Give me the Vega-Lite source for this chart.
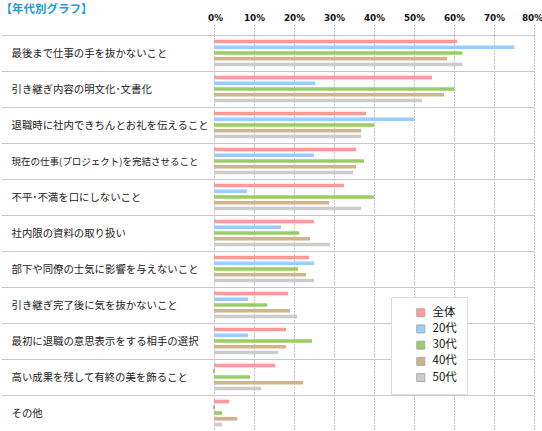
{
  "$schema": "https://vega.github.io/schema/vega-lite/v6.json",
  "width": 320,
  "height": 396,
  "padding": {"left": 0, "top": 3, "right": 9, "bottom": 0},
  "autosize": {"type": "pad"},
  "background": "white",
  "title": {
    "text": "【年代別グラフ】",
    "anchor": "start",
    "frame": "bounds",
    "orient": "top",
    "offset": -2,
    "font": "Noto Sans CJK JP",
    "fontSize": 11.5,
    "fontWeight": "bold",
    "color": "#1E9BD7"
  },
  "config": {
    "view": {"stroke": null},
    "font": "Noto Sans CJK JP"
  },
  "data": {
    "values": [
      {"c": "最後まで仕事の手を抜かないこと", "s": "全体", "v": 60.8},
      {"c": "最後まで仕事の手を抜かないこと", "s": "20代", "v": 75.1},
      {"c": "最後まで仕事の手を抜かないこと", "s": "30代", "v": 62.1},
      {"c": "最後まで仕事の手を抜かないこと", "s": "40代", "v": 58.3},
      {"c": "最後まで仕事の手を抜かないこと", "s": "50代", "v": 62.1},
      {"c": "引き継ぎ内容の明文化･文書化", "s": "全体", "v": 54.5},
      {"c": "引き継ぎ内容の明文化･文書化", "s": "20代", "v": 25.3},
      {"c": "引き継ぎ内容の明文化･文書化", "s": "30代", "v": 60.0},
      {"c": "引き継ぎ内容の明文化･文書化", "s": "40代", "v": 57.5},
      {"c": "引き継ぎ内容の明文化･文書化", "s": "50代", "v": 52.0},
      {"c": "退職時に社内できちんとお礼を伝えること", "s": "全体", "v": 38.0},
      {"c": "退職時に社内できちんとお礼を伝えること", "s": "20代", "v": 50.0},
      {"c": "退職時に社内できちんとお礼を伝えること", "s": "30代", "v": 40.0},
      {"c": "退職時に社内できちんとお礼を伝えること", "s": "40代", "v": 36.8},
      {"c": "退職時に社内できちんとお礼を伝えること", "s": "50代", "v": 36.8},
      {"c": "現在の仕事(プロジェクト)を完結させること", "s": "全体", "v": 35.5},
      {"c": "現在の仕事(プロジェクト)を完結させること", "s": "20代", "v": 25.0},
      {"c": "現在の仕事(プロジェクト)を完結させること", "s": "30代", "v": 37.5},
      {"c": "現在の仕事(プロジェクト)を完結させること", "s": "40代", "v": 35.5},
      {"c": "現在の仕事(プロジェクト)を完結させること", "s": "50代", "v": 34.8},
      {"c": "不平･不満を口にしないこと", "s": "全体", "v": 32.5},
      {"c": "不平･不満を口にしないこと", "s": "20代", "v": 8.3},
      {"c": "不平･不満を口にしないこと", "s": "30代", "v": 40.0},
      {"c": "不平･不満を口にしないこと", "s": "40代", "v": 28.8},
      {"c": "不平･不満を口にしないこと", "s": "50代", "v": 36.8},
      {"c": "社内限の資料の取り扱い", "s": "全体", "v": 25.0},
      {"c": "社内限の資料の取り扱い", "s": "20代", "v": 16.8},
      {"c": "社内限の資料の取り扱い", "s": "30代", "v": 21.3},
      {"c": "社内限の資料の取り扱い", "s": "40代", "v": 24.0},
      {"c": "社内限の資料の取り扱い", "s": "50代", "v": 29.0},
      {"c": "部下や同僚の士気に影響を与えないこと", "s": "全体", "v": 23.8},
      {"c": "部下や同僚の士気に影響を与えないこと", "s": "20代", "v": 25.0},
      {"c": "部下や同僚の士気に影響を与えないこと", "s": "30代", "v": 21.0},
      {"c": "部下や同僚の士気に影響を与えないこと", "s": "40代", "v": 23.0},
      {"c": "部下や同僚の士気に影響を与えないこと", "s": "50代", "v": 25.0},
      {"c": "引き継ぎ完了後に気を抜かないこと", "s": "全体", "v": 18.5},
      {"c": "引き継ぎ完了後に気を抜かないこと", "s": "20代", "v": 8.5},
      {"c": "引き継ぎ完了後に気を抜かないこと", "s": "30代", "v": 13.3},
      {"c": "引き継ぎ完了後に気を抜かないこと", "s": "40代", "v": 19.0},
      {"c": "引き継ぎ完了後に気を抜かないこと", "s": "50代", "v": 20.8},
      {"c": "最初に退職の意思表示をする相手の選択", "s": "全体", "v": 18.0},
      {"c": "最初に退職の意思表示をする相手の選択", "s": "20代", "v": 8.5},
      {"c": "最初に退職の意思表示をする相手の選択", "s": "30代", "v": 24.5},
      {"c": "最初に退職の意思表示をする相手の選択", "s": "40代", "v": 18.0},
      {"c": "最初に退職の意思表示をする相手の選択", "s": "50代", "v": 16.0},
      {"c": "高い成果を残して有終の美を飾ること", "s": "全体", "v": 15.3},
      {"c": "高い成果を残して有終の美を飾ること", "s": "20代", "v": 0},
      {"c": "高い成果を残して有終の美を飾ること", "s": "30代", "v": 9.0},
      {"c": "高い成果を残して有終の美を飾ること", "s": "40代", "v": 22.3},
      {"c": "高い成果を残して有終の美を飾ること", "s": "50代", "v": 11.8},
      {"c": "その他", "s": "全体", "v": 3.8},
      {"c": "その他", "s": "20代", "v": 0},
      {"c": "その他", "s": "30代", "v": 2.0},
      {"c": "その他", "s": "40代", "v": 5.8},
      {"c": "その他", "s": "50代", "v": 2.0}
    ]
  },
  "mark": {"type": "bar", "stroke": "#999999", "strokeWidth": 1},
  "encoding": {
    "y": {
      "field": "c",
      "type": "nominal",
      "sort": null,
      "scale": {"paddingInner": 0, "paddingOuter": 0},
      "axis": {
        "title": null,
        "domain": false,
        "ticks": true,
        "tickBand": "extent",
        "tickSize": 213,
        "tickColor": "#c8c8c8",
        "tickWidth": 1,
        "grid": true,
        "gridColor": "#c8c8c8",
        "gridWidth": 1,
        "labelAlign": "left",
        "labelPadding": -10,
        "labelFont": "Noto Sans CJK JP",
        "labelFontSize": {"expr": "length(datum.label) > 20 ? 9.5 : 10.4"},
        "labelColor": "#222222",
        "labelLimit": 210
      }
    },
    "yOffset": {
      "field": "s",
      "type": "nominal",
      "sort": ["全体", "20代", "30代", "40代", "50代"],
      "scale": {"paddingInner": 0.36, "paddingOuter": 0.81}
    },
    "x": {
      "field": "v",
      "type": "quantitative",
      "scale": {"domain": [0, 80], "nice": false},
      "axis": {
        "orient": "top",
        "title": null,
        "values": [0, 10, 20, 30, 40, 50, 60, 70, 80],
        "labelExpr": "datum.value + '%'",
        "domain": false,
        "ticks": true,
        "tickSize": 12,
        "tickColor": "#888888",
        "tickDash": [1, 2],
        "tickWidth": 1,
        "grid": true,
        "gridColor": "#888888",
        "gridDash": [1, 2],
        "gridWidth": 1,
        "labelPadding": 1,
        "labelFont": "DejaVu Sans",
        "labelFontWeight": "bold",
        "labelFontSize": 8.8,
        "labelColor": "#111111",
        "labelFlush": false,
        "labelOffset": {"expr": "datum.value == 80 ? -2 : (datum.value == 0 ? 1 : 0)"}
      }
    },
    "color": {
      "field": "s",
      "type": "nominal",
      "sort": ["全体", "20代", "30代", "40代", "50代"],
      "scale": {
        "domain": ["全体", "20代", "30代", "40代", "50代"],
        "range": ["#FF9999", "#99CCFF", "#99CC66", "#D2B48C", "#CCCCCC"]
      },
      "legend": {
        "title": null,
        "orient": "none",
        "legendX": 177,
        "legendY": 262,
        "fillColor": "white",
        "strokeColor": "#dddddd",
        "padding": 10,
        "symbolType": "square",
        "symbolSize": 64,
        "symbolOffset": 14,
        "symbolStrokeColor": "#aaaaaa",
        "symbolStrokeWidth": 1,
        "labelFont": "Noto Sans CJK JP",
        "labelFontSize": 11.5,
        "labelColor": "#111111",
        "labelOffset": 6,
        "labelExpr": "datum.label + '\u3000'",
        "rowPadding": 3.2
      }
    },
    "strokeOpacity": {
      "condition": {"test": "datum.v == 0", "value": 1},
      "value": 0
    }
  }
}
